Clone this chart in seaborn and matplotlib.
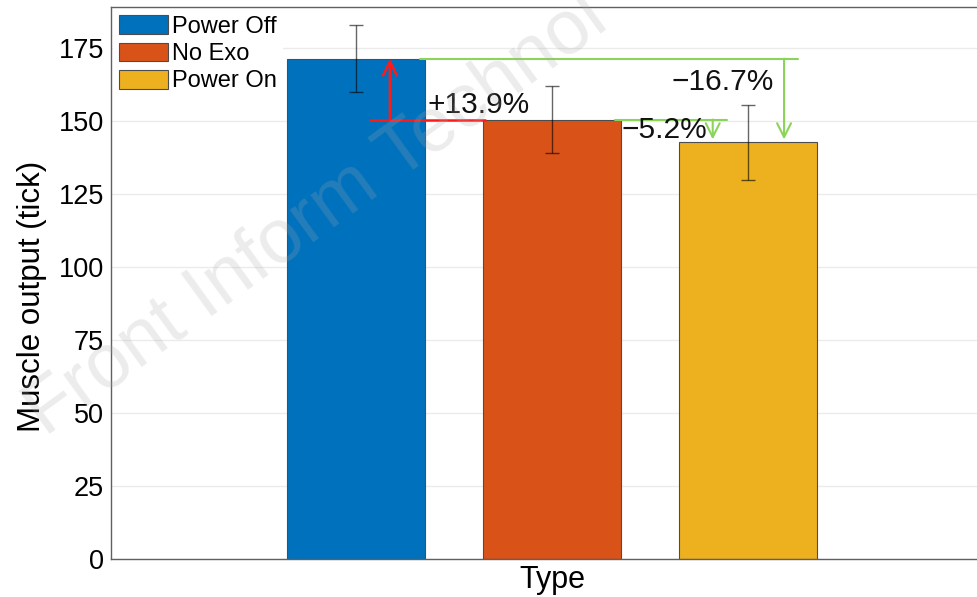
import matplotlib
matplotlib.use("Agg")
import matplotlib.pyplot as plt
import seaborn as sns
import pandas as pd

# Data
conditions = ["Power Off", "No Exo", "Power On"]
muscle_output = [171.3, 150.45, 142.65]
output_sd = [11.5, 11.5, 12.8]
bar_colors = ["#0072BD", "#D95319", "#EDB120"]
y_ticks = [0, 25, 50, 75, 100, 125, 150, 175]

df = pd.DataFrame({"Type": conditions, "Output": muscle_output})

sns.set_theme(style="white")
plt.rcParams["font.family"] = ["Liberation Sans", "DejaVu Sans"]
plt.rcParams["text.color"] = "black"
plt.rcParams["axes.labelcolor"] = "black"
plt.rcParams["ytick.color"] = "black"

fig = plt.figure(figsize=(9.78, 5.97), dpi=100)
ax = fig.add_axes([111 / 978, 38 / 597, 882 / 978, 552 / 597])

sns.barplot(data=df, x="Type", y="Output", hue="Type", order=conditions,
            hue_order=conditions, palette=bar_colors, saturation=1, width=0.7,
            edgecolor="#4d4d4d", linewidth=0.8, legend=True, ax=ax, zorder=2)

ax.errorbar(range(len(conditions)), muscle_output, yerr=output_sd, fmt="none",
            ecolor="black", alpha=0.6, elinewidth=1.0, capsize=5, capthick=1.0,
            zorder=3)

ax.set_xlim(-1.25, 3.25)
ax.set_ylim(0, 189)
ax.set_yticks(y_ticks)
ax.set_yticklabels([str(t) for t in y_ticks], fontsize=19.5)
ax.set_xticks([])
ax.set_xlabel("Type", fontsize=22, labelpad=4)
ax.set_ylabel("Muscle output (tick)", fontsize=22.5)
ax.yaxis.set_label_coords(-0.072, 0.475)
ax.tick_params(axis="both", length=0, pad=5)
ax.yaxis.grid(True, color="#ebebeb", linewidth=1.0, zorder=0)
ax.set_axisbelow(True)
for side in ["left", "bottom", "top"]:
    ax.spines[side].set_color("#606060")
    ax.spines[side].set_linewidth(1.0)
ax.spines["right"].set_visible(False)

# Legend
leg = ax.legend(loc="upper left", bbox_to_anchor=(0.0, 1.0), fontsize=17,
                frameon=True, framealpha=1, facecolor="white", edgecolor="none",
                handlelength=2.05, handleheight=0.85, handletextpad=0.2,
                labelspacing=0.2, borderpad=0.25, borderaxespad=0.1)
for h in leg.legend_handles:
    h.set_edgecolor("#4d4d4d")
    h.set_linewidth(0.8)
for t in leg.get_texts():
    t.set_color("black")

a, b, c = muscle_output
red = "#ff1a1a"
green = "#8ad45a"
arrow_style = "->,head_length=0.5,head_width=0.25"

# Power Off vs No Exo
ax.plot([0.071, 0.658], [b, b], color=red, lw=1.8, zorder=4)
ax.annotate("", xy=(0.173, a), xytext=(0.173, b),
            arrowprops=dict(arrowstyle=arrow_style, color=red, lw=1.8,
                            shrinkA=0, shrinkB=0, mutation_scale=20), zorder=4)
ax.text(0.367, b + 5, f"+{(a / b - 1) * 100:.1f}%", fontsize=21.5,
        ha="left", va="center", color="#111111", zorder=5)

# Power On vs Power Off
ax.plot([0.327, 2.255], [a, a], color=green, lw=1.5, zorder=4)
ax.annotate("", xy=(2.184, c + 1), xytext=(2.184, a),
            arrowprops=dict(arrowstyle=arrow_style, color=green, lw=1.5,
                            shrinkA=0, shrinkB=0, mutation_scale=20), zorder=4)
ax.text(1.612, a - 8, f"\u2212{(1 - c / a) * 100:.1f}%", fontsize=21.5,
        ha="left", va="center", color="#111111", zorder=5)

# Power On vs No Exo
ax.plot([1.321, 1.893], [b, b], color=green, lw=1.5, zorder=4)
ax.annotate("", xy=(1.82, c + 1), xytext=(1.82, b),
            arrowprops=dict(arrowstyle=arrow_style, color=green, lw=1.5,
                            shrinkA=0, shrinkB=0, mutation_scale=20), zorder=4)
ax.text(1.357, b - 3.5, f"\u2212{(1 - c / b) * 100:.1f}%", fontsize=21.5,
        ha="left", va="center", color="#111111", zorder=5)

# Journal watermark
fig.text(45 / 978, 160 / 597, "Front Inform Technol",
         fontsize=55, color="#a8a8a8", alpha=0.22, rotation=36,
         rotation_mode="anchor", ha="left", va="baseline", zorder=10)

fig.savefig("out.png", dpi=100, facecolor="white")
